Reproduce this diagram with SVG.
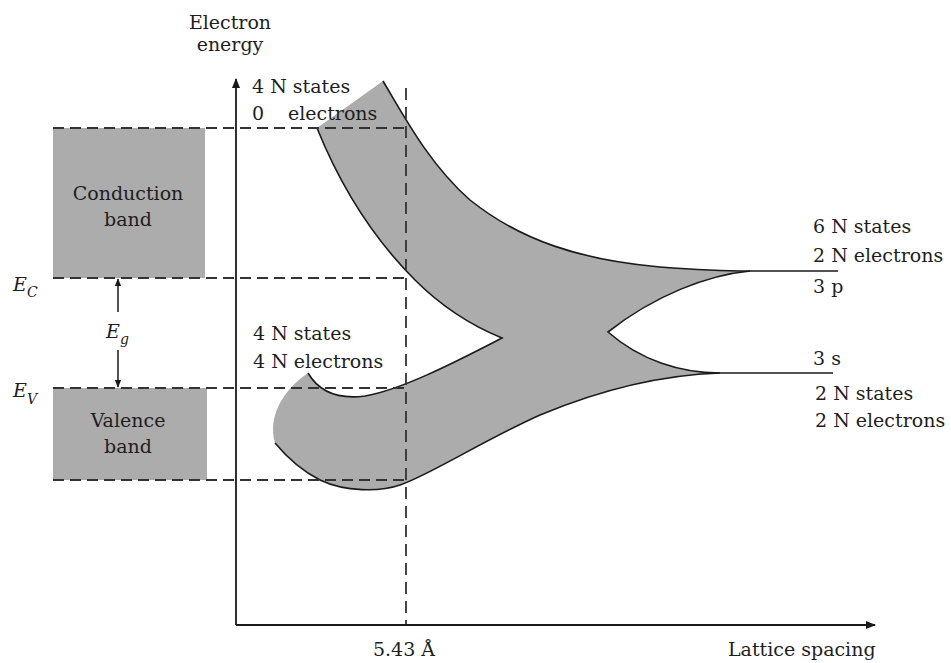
<svg xmlns="http://www.w3.org/2000/svg" width="951" height="663" viewBox="0 0 951 663">
<defs>
<marker id="arr" viewBox="0 0 10 10" refX="9" refY="5" markerWidth="10" markerHeight="10" markerUnits="userSpaceOnUse" orient="auto">
<path d="M0,1 L10,5 L0,9 Z" fill="#1a1a1a"/>
</marker>
<marker id="arrs" viewBox="0 0 10 10" refX="9" refY="5" markerWidth="8" markerHeight="8" markerUnits="userSpaceOnUse" orient="auto">
<path d="M0,1 L10,5 L0,9 Z" fill="#1a1a1a"/>
</marker>
</defs>
<style>
text{font-family:"DejaVu Serif","Liberation Serif",serif;font-size:19px;fill:#1e1e1e}
.it{font-style:italic}
.sub{font-size:14px}
.mid{text-anchor:middle}
.band{fill:#acacac}
.dash{stroke:#333;stroke-width:1.8;stroke-dasharray:11 6;fill:none}
.vdash{stroke:#333;stroke-width:1.8;stroke-dasharray:12 7;fill:none}
.edge{stroke:#1a1a1a;stroke-width:1.6;fill:none}
.axis{stroke:#1a1a1a;stroke-width:1.8;fill:none}
</style>
<rect width="951" height="663" fill="#fff"/>

<g id="conduction-band">
<rect class="band" x="53" y="128" width="152" height="150"/>
<text class="mid" x="128" y="200">Conduction</text>
<text class="mid" x="128" y="226">band</text>
</g>
<g id="valence-band">
<rect class="band" x="53" y="388" width="154" height="92"/>
<text class="mid" x="128" y="427">Valence</text>
<text class="mid" x="128" y="453">band</text>
</g>

<g id="bands">
<path class="band" d="M383,81 C405,118 430,165 470,200 C520,240 580,260 660,267 C700,270 730,271 750,271 C708,275 655,295 608,332 C640,360 680,373 720,373 C660,375 600,390 540,415 C480,442 430,475 400,485 C380,492 345,492 320,480 C300,470 285,455 275,443 C268,420 280,392 308,373 C318,390 335,400 365,396 C400,390 450,365 502,338 C470,325 440,305 415,280 C370,235 340,185 317,128 Z"/>
<path class="edge" d="M383,81 C405,118 430,165 470,200 C520,240 580,260 660,267 C700,270 730,271 750,271 L838,271"/>
<path class="edge" d="M750,271 C708,275 655,295 608,332 C640,360 680,373 720,373 L833,373"/>
<path class="edge" d="M720,373 C660,375 600,390 540,415 C480,442 430,475 400,485 C380,492 345,492 320,480 C300,470 285,455 275,443"/>
<path class="edge" d="M308,373 C318,390 335,400 365,396 C400,390 450,365 502,338 C470,325 440,305 415,280 C370,235 340,185 317,128"/>
</g>

<g id="connectors">
<path class="dash" d="M53,128 H406 M53,278 H406 M53,388 H406 M53,480 H406"/>
<path class="vdash" d="M406,88 V624"/>
<path class="axis" d="M236,625 V79" marker-end="url(#arr)"/>
<path class="axis" d="M236,625 H875" marker-end="url(#arr)"/>
<path class="axis" d="M118,312 V279" marker-end="url(#arrs)" style="stroke-width:1.5"/>
<path class="axis" d="M118,350 V387" marker-end="url(#arrs)" style="stroke-width:1.5"/>
</g>

<g id="labels">
<text class="mid" x="230" y="29">Electron</text>
<text class="mid" x="230" y="51">energy</text>
<text x="252" y="93">4 N states</text>
<text x="252" y="120">0</text>
<text x="288" y="120">electrons</text>
<text x="253" y="340">4 N states</text>
<text x="253" y="368">4 N electrons</text>
<text x="813" y="233">6 N states</text>
<text x="813" y="262">2 N electrons</text>
<text x="813" y="293">3 p</text>
<text x="813" y="365">3 s</text>
<text x="815" y="400">2 N states</text>
<text x="815" y="427">2 N electrons</text>
<text class="mid" x="404" y="656">5.43 Å</text>
<text x="728" y="656">Lattice spacing</text>
<text class="it" x="13" y="291">E<tspan class="sub" dy="6">C</tspan></text>
<text class="it" x="13" y="397">E<tspan class="sub" dy="7">V</tspan></text>
<text class="it" x="106" y="338">E<tspan class="sub" dy="6">g</tspan></text>
</g>
</svg>
